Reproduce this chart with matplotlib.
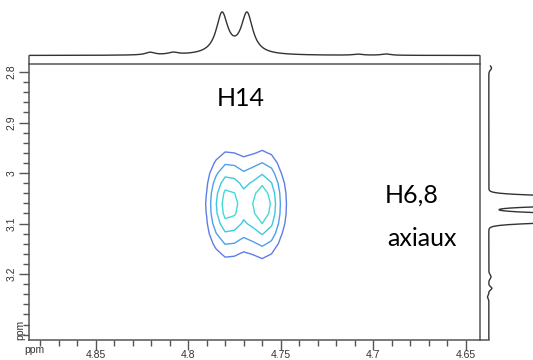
import numpy as np
import matplotlib
matplotlib.use("Agg")
import matplotlib.pyplot as plt
from matplotlib.ticker import MultipleLocator, FixedLocator

# ---------------- data ----------------
# axis ranges (ppm)
x_limits = [4.886, 4.6423]          # F2 (left -> right)
y_limits = [3.3305, 2.784]          # F1 (bottom -> top)
x_major_ticks = [4.85, 4.80, 4.75, 4.70, 4.65]
x_tick_labels = ["4.85", "4.8", "4.75", "4.7", "4.65"]
y_major_ticks = [2.8, 2.9, 3.0, 3.1, 3.2]
y_tick_labels = ["2.8", "2.9", "3", "3.1", "3.2"]

# top 1D projection: lines (ppm, height, half width)
top_peak_ppm = [4.8206, 4.8082, 4.7817, 4.7682, 4.7082, 4.6930]
top_peak_height = [0.06, 0.05, 0.932, 0.932, 0.025, 0.03]
top_peak_hwhm = [0.0030, 0.0030, 0.0038, 0.0038, 0.0030, 0.0030]

# side 1D projection: lines (ppm, height, sigma)
side_peak_ppm = [2.792, 3.0553, 3.0889, 3.205, 3.228, 3.245]
side_peak_height = [0.06, 6.8, 5.0, 0.05, 0.07, -0.03]
side_peak_sigma = [0.004, 0.006, 0.006, 0.004, 0.003, 0.003]

# 2D cross peak (H14 / H6,8 axiaux)
cross_x_ppm = [4.7785, 4.7595]
cross_y_ppm = [3.062, 3.062]
cross_amp = [0.95, 1.0]
cross_sigma_x = 0.0066
cross_sigma_y = 0.058
contour_levels = [0.19, 0.37, 0.60, 0.82]
contour_colors = ["#5f7de6", "#4fa0ea", "#3fc8e2", "#44d9d6"]

# ---------------- figure ----------------
W, H = 533, 360
fig = plt.figure(figsize=(W / 100, H / 100), dpi=100)


def fx(px):
    return px / W


def fy(py):
    return 1 - py / H


L, R, T, B = 29, 480, 64, 340
main = fig.add_axes([fx(L), fy(B), fx(R) - fx(L), fy(T) - fy(B)])
top = fig.add_axes([fx(L), fy(T), fx(R) - fx(L), fy(0) - fy(T)])
side = fig.add_axes([fx(R), fy(B), fx(533) - fx(R), fy(T) - fy(B)])

spine_col = "#555555"
trace_col = "#333333"
font = "Liberation Sans"

# ---- contour ----
gx = np.arange(4.700, 4.840, 0.005)
gy = np.arange(2.900, 3.220, 0.020)
GX, GY = np.meshgrid(gx, gy)
Z = np.zeros_like(GX)
for cx, cy, a in zip(cross_x_ppm, cross_y_ppm, cross_amp):
    Z += a * np.exp(-0.5 * ((GX - cx) / cross_sigma_x) ** 2) * \
        np.exp(-0.5 * ((GY - cy) / cross_sigma_y) ** 2)
main.contour(GX, GY, Z, levels=contour_levels, colors=contour_colors,
             linewidths=1.0)

main.set_xlim(x_limits)
main.set_ylim(y_limits)
main.xaxis.set_major_locator(FixedLocator(x_major_ticks))
main.set_xticklabels(x_tick_labels)
main.xaxis.set_minor_locator(MultipleLocator(0.01))
main.yaxis.set_major_locator(FixedLocator(y_major_ticks))
main.set_yticklabels(y_tick_labels)
main.yaxis.set_minor_locator(MultipleLocator(0.02))
main.tick_params(axis="both", which="major", length=7, width=1.0,
                 color=spine_col, labelsize=7.5, labelcolor="#333333", pad=2)
main.tick_params(axis="x", which="major", pad=0.5)
main.tick_params(axis="both", which="minor", length=4, width=1.0,
                 color=spine_col)
main.tick_params(axis="y", labelrotation=90)
for lab in main.get_yticklabels():
    lab.set_va("center")
    lab.set_family(font)
for lab in main.get_xticklabels():
    lab.set_family(font)
for s in main.spines.values():
    s.set_color(spine_col)
    s.set_linewidth(1.1)

# ---- top projection ----
xs = np.linspace(x_limits[0], x_limits[1], 1200)
ytop = np.zeros_like(xs)
for p, h, g in zip(top_peak_ppm, top_peak_height, top_peak_hwhm):
    ytop += h / (1 + ((xs - p) / g) ** 2)
top.plot(xs, ytop, color=trace_col, lw=1.0)
top.set_xlim(x_limits)
top_lo = -8.5 / 43.5
top.set_ylim(top_lo, top_lo + 64 / 43.5)
top.set_xticks([])
top.set_yticks([])
top.patch.set_visible(False)
for k in ["top", "bottom"]:
    top.spines[k].set_visible(False)
for k in ["left", "right"]:
    top.spines[k].set_bounds(top_lo, 0)
    top.spines[k].set_color(spine_col)
    top.spines[k].set_linewidth(1.1)

# ---- side projection ----
ys = np.linspace(y_limits[1] + 0.004, y_limits[0], 1500)
xside = np.zeros_like(ys)
for p, h, s in zip(side_peak_ppm, side_peak_height, side_peak_sigma):
    xside += h * np.exp(-0.5 * ((ys - p) / s) ** 2)
side.plot(xside, ys, color=trace_col, lw=1.0)
side.set_ylim(y_limits)
side.set_xlim(-0.2, 1.0)
side.set_xticks([])
side.set_yticks([])
side.patch.set_visible(False)
for k in ["top", "right", "left"]:
    side.spines[k].set_visible(False)
side.spines["bottom"].set_bounds(-0.2, 0)
side.spines["bottom"].set_color(spine_col)
side.spines["bottom"].set_linewidth(1.1)

# ---- texts ----
fig.text(fx(20), fy(330), "ppm", rotation=90, ha="center", va="center",
         fontsize=7.5, color="#333333", family=font)
fig.text(fx(34), fy(350), "ppm", ha="center", va="center",
         fontsize=7.5, color="#333333", family=font)
lab_font = "Lato"
fig.text(fx(241), fy(98), "H14", ha="center", va="center", fontsize=18,
         family=lab_font, color="black")
fig.text(fx(412), fy(195), "H6,8", ha="center", va="center", fontsize=18,
         family=lab_font, color="black")
fig.text(fx(422), fy(239), "axiaux", ha="center", va="center", fontsize=18,
         family=lab_font, color="black")

fig.savefig("out.png", dpi=100)
